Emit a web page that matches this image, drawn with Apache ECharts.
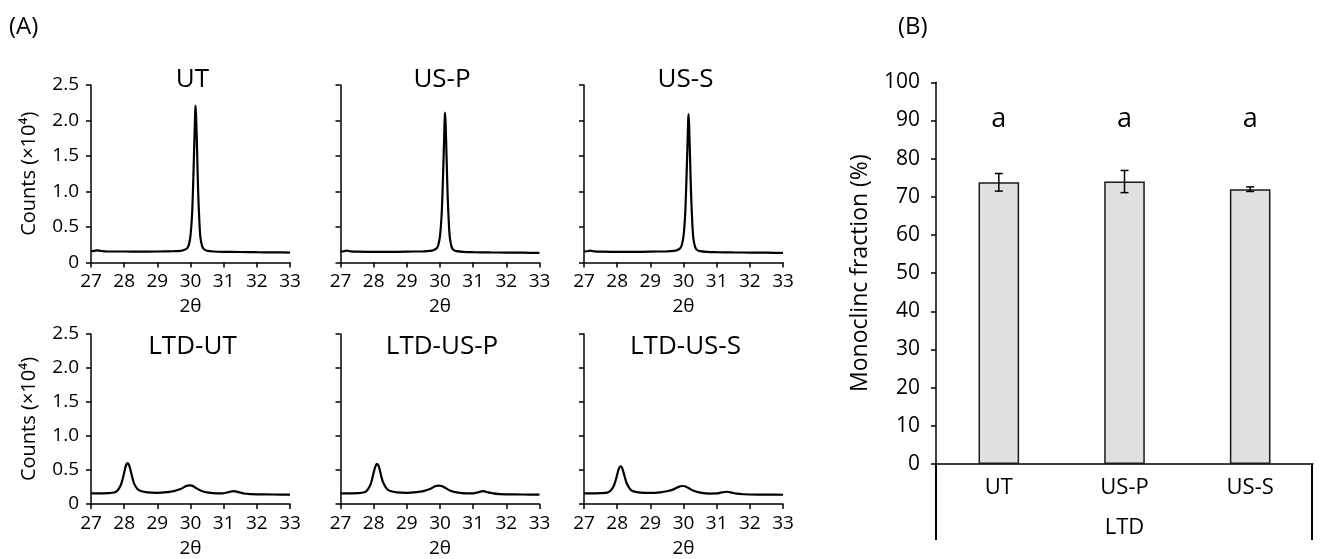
<!DOCTYPE html>
<html>
<head>
<meta charset="utf-8">
<script src="https://cdn.jsdelivr.net/npm/echarts@6/dist/echarts.min.js"></script>
<style>
html,body{margin:0;padding:0;background:#fff;overflow:hidden;width:1327px;height:559px;}
#chart{width:1327px;height:559px;display:block;}
</style>
</head>
<body>
<div id="chart"></div>
<script>
// ---------------- DATA ----------------
const xrdTitles = ['UT', 'US-P', 'US-S', 'LTD-UT', 'LTD-US-P', 'LTD-US-S'];
const xTicks = [27, 28, 29, 30, 31, 32, 33];
const yTicksA = [0, 0.5, 1.0, 1.5, 2.0, 2.5];

const xrdUT = [[27.0,0.16],[27.1,0.163],[27.18,0.172],[27.3,0.162],[27.5,0.155],[28.0,0.155],[28.5,0.152],[29.0,0.155],[29.5,0.16],[29.7,0.165],[29.8,0.175],[29.9,0.2],[29.95,0.25],[30.0,0.38],[30.05,0.7],[30.08,1.1],[30.11,1.6],[30.14,2.1],[30.15,2.21],[30.17,2.05],[30.2,1.55],[30.23,1.0],[30.27,0.55],[30.3,0.35],[30.35,0.23],[30.4,0.19],[30.5,0.165],[30.7,0.155],[31.0,0.15],[31.5,0.148],[32.0,0.145],[32.5,0.143],[33.0,0.14]];
const xrdUSP = [[27.0,0.155],[27.1,0.158],[27.18,0.168],[27.3,0.158],[27.5,0.152],[28.0,0.15],[28.5,0.15],[29.0,0.153],[29.5,0.158],[29.7,0.163],[29.8,0.172],[29.9,0.2],[29.95,0.25],[30.0,0.37],[30.05,0.68],[30.08,1.05],[30.11,1.5],[30.14,2.0],[30.15,2.11],[30.17,1.95],[30.2,1.45],[30.23,0.95],[30.27,0.52],[30.3,0.34],[30.35,0.22],[30.4,0.18],[30.5,0.16],[30.7,0.15],[31.0,0.145],[31.5,0.142],[32.0,0.14],[32.5,0.138],[33.0,0.135]];
const xrdUSS = [[27.0,0.155],[27.1,0.158],[27.18,0.166],[27.3,0.158],[27.5,0.152],[28.0,0.15],[28.5,0.15],[29.0,0.153],[29.5,0.158],[29.7,0.163],[29.8,0.172],[29.9,0.2],[29.95,0.25],[30.0,0.37],[30.05,0.67],[30.08,1.04],[30.11,1.5],[30.14,1.98],[30.15,2.09],[30.17,1.93],[30.2,1.43],[30.23,0.94],[30.27,0.51],[30.3,0.33],[30.35,0.22],[30.4,0.18],[30.5,0.16],[30.7,0.15],[31.0,0.145],[31.5,0.142],[32.0,0.14],[32.5,0.138],[33.0,0.135]];
const xrdLTDUT = [[27.0,0.155],[27.3,0.155],[27.5,0.16],[27.7,0.17],[27.8,0.2],[27.9,0.28],[27.95,0.36],[28.0,0.46],[28.05,0.56],[28.1,0.6],[28.15,0.57],[28.2,0.48],[28.25,0.38],[28.3,0.3],[28.4,0.22],[28.5,0.19],[28.7,0.17],[29.0,0.165],[29.3,0.175],[29.5,0.19],[29.7,0.22],[29.85,0.26],[29.95,0.275],[30.05,0.27],[30.15,0.24],[30.3,0.2],[30.5,0.17],[30.8,0.155],[31.0,0.158],[31.15,0.175],[31.3,0.19],[31.45,0.175],[31.6,0.155],[31.8,0.145],[32.0,0.142],[32.5,0.14],[33.0,0.138]];
const xrdLTDUSP = [[27.0,0.155],[27.3,0.155],[27.5,0.16],[27.7,0.17],[27.8,0.2],[27.9,0.28],[27.95,0.36],[28.0,0.46],[28.05,0.55],[28.1,0.59],[28.15,0.56],[28.2,0.47],[28.25,0.37],[28.3,0.3],[28.4,0.22],[28.5,0.19],[28.7,0.17],[29.0,0.165],[29.3,0.175],[29.5,0.19],[29.7,0.22],[29.85,0.26],[29.95,0.27],[30.05,0.265],[30.15,0.24],[30.3,0.2],[30.5,0.17],[30.8,0.155],[31.0,0.157],[31.15,0.172],[31.3,0.188],[31.45,0.172],[31.6,0.155],[31.8,0.145],[32.0,0.142],[32.5,0.14],[33.0,0.138]];
const xrdLTDUSS = [[27.0,0.155],[27.3,0.155],[27.5,0.16],[27.7,0.168],[27.8,0.195],[27.9,0.27],[27.95,0.34],[28.0,0.43],[28.05,0.52],[28.1,0.555],[28.15,0.53],[28.2,0.45],[28.25,0.36],[28.3,0.29],[28.4,0.215],[28.5,0.185],[28.7,0.168],[29.0,0.163],[29.3,0.172],[29.5,0.187],[29.7,0.215],[29.85,0.252],[29.95,0.265],[30.05,0.26],[30.15,0.235],[30.3,0.195],[30.5,0.168],[30.8,0.153],[31.0,0.155],[31.15,0.17],[31.3,0.18],[31.45,0.168],[31.6,0.152],[31.8,0.143],[32.0,0.14],[32.5,0.138],[33.0,0.136]];
const xrdSeries = [xrdUT, xrdUSP, xrdUSS, xrdLTDUT, xrdLTDUSP, xrdLTDUSS];

const barCategories = ['UT', 'US-P', 'US-S'];
const barGroup = 'LTD';
const barMeans = [73.8, 74.0, 72.0];
const barErrors = [2.3, 2.9, 0.6];
const sigLetters = ['a', 'a', 'a'];
const sigLevel = 90.3;
const yTicksB = [0, 10, 20, 30, 40, 50, 60, 70, 80, 90, 100];

// ---------------- LAYOUT ----------------
const FONT = '"Open Sans", "Liberation Sans", sans-serif';
const panelLefts = [91, 340.5, 584];
const panelTops = [85, 334];
const panelW = 199, panelH = 177.5;

const grids = [], xAxes = [], yAxes = [], series = [], graphics = [];
for (let i = 0; i < 6; i++) {
  const col = i % 3, row = Math.floor(i / 3);
  grids.push({left: panelLefts[col], top: panelTops[row], width: panelW, height: panelH});
  xAxes.push({
    type: 'value', gridIndex: i, min: xTicks[0], max: xTicks[xTicks.length - 1], interval: 1,
    axisLine: {show: true, onZero: false, lineStyle: {color: '#000', width: 1.5}},
    axisTick: {show: true, inside: false, length: 5, lineStyle: {color: '#000', width: 1.5}},
    axisLabel: {color: '#000', fontSize: 19, fontFamily: FONT, margin: 10},
    splitLine: {show: false},
    name: '2θ', nameLocation: 'middle', nameGap: 35,
    nameTextStyle: {color: '#000', fontSize: 19, fontFamily: FONT}
  });
  yAxes.push({
    type: 'value', gridIndex: i, min: yTicksA[0], max: yTicksA[yTicksA.length - 1], interval: 0.5,
    axisLine: {show: true, lineStyle: {color: '#000', width: 1.5}},
    axisTick: {show: true, inside: false, length: 5, lineStyle: {color: '#000', width: 1.5}},
    axisLabel: {show: col === 0, color: '#000', fontSize: 19, fontFamily: FONT, margin: 12,
      formatter: v => v === 0 ? '0' : v.toFixed(1)},
    splitLine: {show: false},
    name: col === 0 ? 'Counts (×10⁴)' : '', nameLocation: 'middle', nameRotate: 90, nameGap: 52,
    nameTextStyle: {color: '#000', fontSize: 20, fontFamily: FONT}
  });
  series.push({
    type: 'line', xAxisIndex: i, yAxisIndex: i, data: xrdSeries[i],
    showSymbol: false, symbol: 'none', smooth: 0.25,
    lineStyle: {color: '#000', width: 2.2}
  });
  graphics.push({
    type: 'text', x: panelLefts[col] + panelW / 2 + 2, y: row === 0 ? 80 : 347,
    style: {text: xrdTitles[i], fill: '#000', font: '26px ' + FONT, textAlign: 'center', textVerticalAlign: 'middle'}
  });
}

// Panel B
grids.push({left: 936, top: 82.3, width: 377, height: 381.7});
xAxes.push({
  type: 'category', gridIndex: 6, data: barCategories, boundaryGap: true,
  axisLine: {show: true, lineStyle: {color: '#000', width: 1.5}},
  axisTick: {show: false},
  axisLabel: {color: '#000', fontSize: 22, fontFamily: FONT, margin: 13},
  name: barGroup, nameLocation: 'middle', nameGap: 53,
  nameTextStyle: {color: '#000', fontSize: 22, fontFamily: FONT}
});
yAxes.push({
  type: 'value', gridIndex: 6, min: yTicksB[0], max: yTicksB[yTicksB.length - 1], interval: 10,
  axisLine: {show: true, lineStyle: {color: '#000', width: 1.5}},
  axisTick: {show: true, inside: false, length: 5, lineStyle: {color: '#000', width: 1.5}},
  axisLabel: {color: '#000', fontSize: 21, fontFamily: FONT, margin: 16},
  splitLine: {show: false},
  name: 'Monoclinc fraction (%)', nameLocation: 'middle', nameRotate: 90, nameGap: 64,
  nameTextStyle: {color: '#000', fontSize: 23, fontFamily: FONT}
});
series.push({
  type: 'bar', xAxisIndex: 6, yAxisIndex: 6, data: barMeans, barWidth: '32.3%',
  itemStyle: {color: '#e0e0e0', borderColor: '#1a1a1a', borderWidth: 1.5}
});
series.push({
  type: 'custom', xAxisIndex: 6, yAxisIndex: 6,
  data: barMeans.map((m, i) => [i, m - barErrors[i], m + barErrors[i]]),
  renderItem: (params, api) => {
    const lo = api.coord([api.value(0), api.value(1)]);
    const hi = api.coord([api.value(0), api.value(2)]);
    const hw = 4, st = {stroke: '#000', lineWidth: 1.5};
    return {type: 'group', children: [
      {type: 'line', shape: {x1: lo[0], y1: lo[1], x2: hi[0], y2: hi[1]}, style: st},
      {type: 'line', shape: {x1: lo[0] - hw, y1: lo[1], x2: lo[0] + hw, y2: lo[1]}, style: st},
      {type: 'line', shape: {x1: hi[0] - hw, y1: hi[1], x2: hi[0] + hw, y2: hi[1]}, style: st}
    ]};
  },
  z: 5
});
series.push({
  type: 'custom', xAxisIndex: 6, yAxisIndex: 6,
  data: sigLetters.map((s, i) => [i, sigLevel]),
  renderItem: (params, api) => {
    const p = api.coord([api.value(0), api.value(1)]);
    return {type: 'text', x: p[0], y: p[1],
      style: {text: sigLetters[params.dataIndex], fill: '#000', font: '27px ' + FONT, textAlign: 'center', textVerticalAlign: 'middle'}};
  }
});
// group boundary lines of the two-level category axis: outer edges of the first and last category bands
series.push({
  type: 'custom', xAxisIndex: 6, yAxisIndex: 6, clip: false,
  data: [[0, 0]],
  renderItem: (params, api) => {
    const first = api.coord([0, 0]);
    const last = api.coord([barCategories.length - 1, 0]);
    const half = api.size([1, 0])[0] / 2;
    const xl = first[0] - half, xr = last[0] + half - 1;
    const st = {stroke: '#000', lineWidth: 2};
    return {type: 'group', children: [
      {type: 'line', shape: {x1: xl, y1: first[1], x2: xl, y2: first[1] + 76}, style: st},
      {type: 'line', shape: {x1: xr, y1: first[1], x2: xr, y2: first[1] + 76}, style: st}
    ]};
  }
});

graphics.push({type: 'text', x: 9, y: 27, style: {text: '(A)', fill: '#000', font: '24px ' + FONT, textAlign: 'left', textVerticalAlign: 'middle'}});
graphics.push({type: 'text', x: 898, y: 27, style: {text: '(B)', fill: '#000', font: '24px ' + FONT, textAlign: 'left', textVerticalAlign: 'middle'}});

const chart = echarts.init(document.getElementById('chart'), null, {renderer: 'canvas', width: 1327, height: 559});
chart.setOption({
  animation: false,
  backgroundColor: '#fff',
  grid: grids, xAxis: xAxes, yAxis: yAxes, series: series, graphic: graphics
});
</script>
</body>
</html>
